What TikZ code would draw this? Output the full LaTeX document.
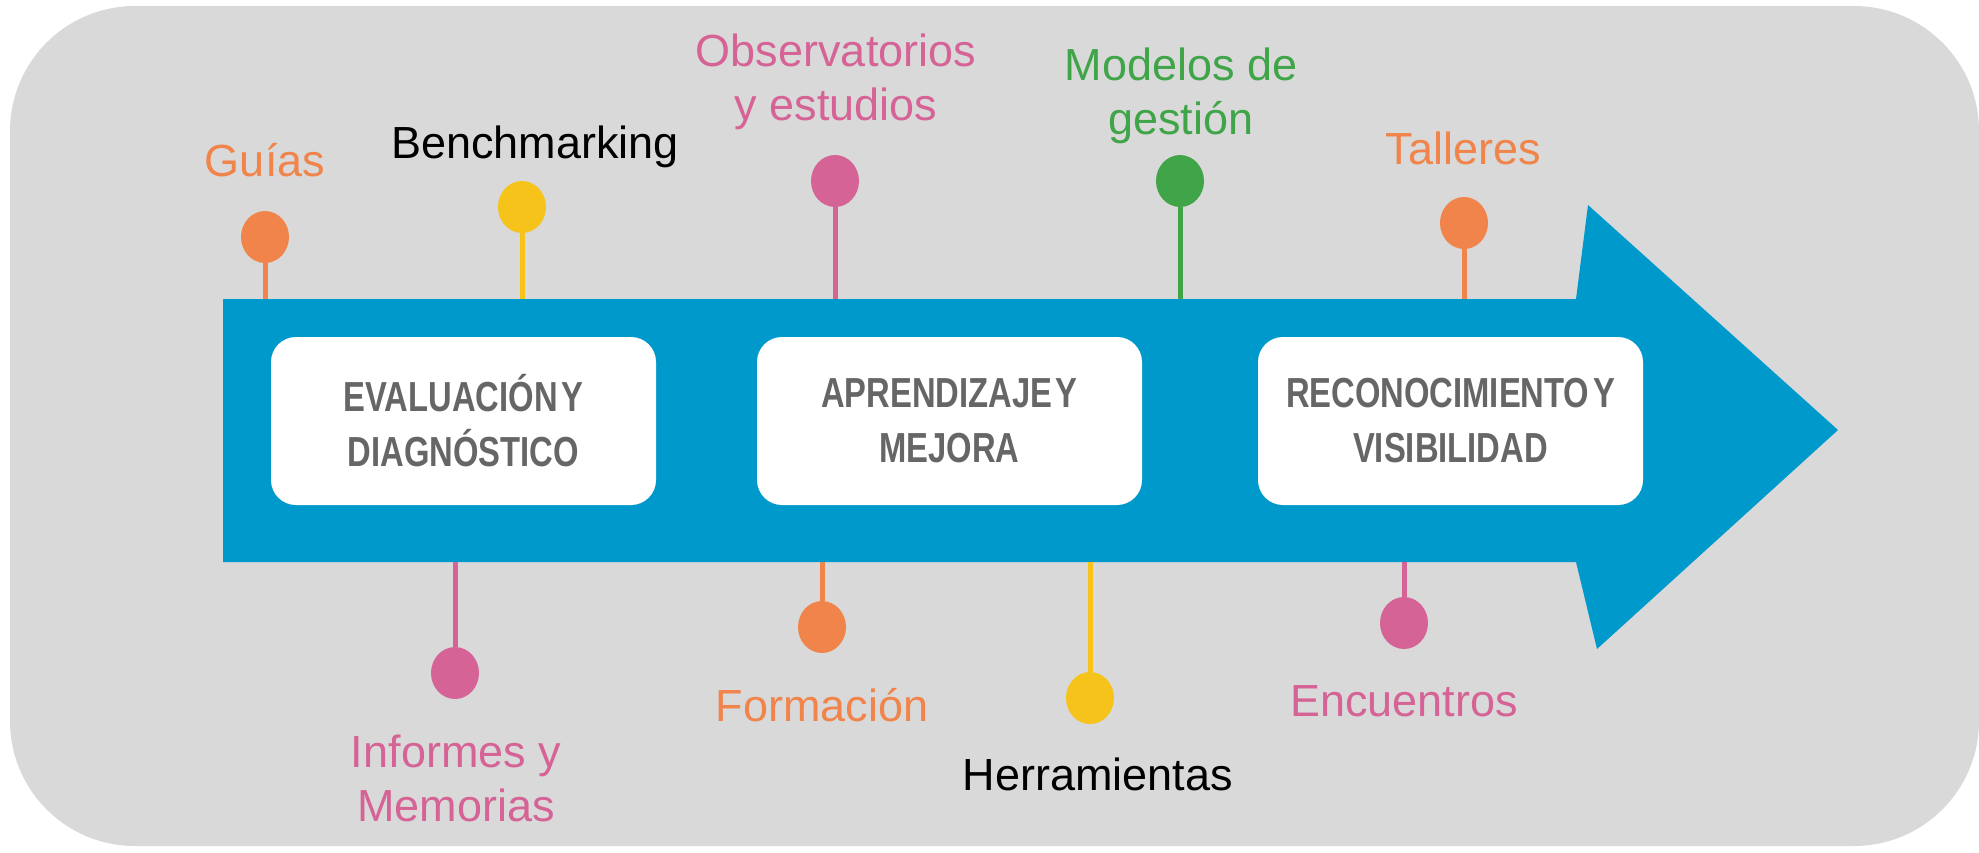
\documentclass[tikz,border=0pt]{standalone}
\usepackage{fontspec}
\setmainfont{Liberation Sans}
\newfontfamily\stagefont[FakeStretch=0.78, WordSpace=0.4]{Liberation Sans}
\usetikzlibrary{shapes.geometric}
\definecolor{bggray}{HTML}{D9D9D9}
\definecolor{arrowblue}{HTML}{0099CC}
\definecolor{stagegray}{HTML}{666666}
\definecolor{dotorange}{HTML}{F0844A}
\definecolor{dotyellow}{HTML}{F6C31A}
\definecolor{dotpink}{HTML}{D66396}
\definecolor{dotgreen}{HTML}{40A548}
\tikzset{
  dot/.style={ellipse, fill=#1, minimum width=48pt, minimum height=52pt, inner sep=0pt},
  stem/.style={draw=#1, line width=5pt},
  lbl/.style={text=#1, font=\fontsize{45}{54}\selectfont, align=center, inner sep=0pt},
  stage/.style={fill=white, rounded corners=25pt, minimum width=385pt, minimum height=168pt,
    inner sep=0pt, text=stagegray, align=center,
    font=\stagefont\bfseries\fontsize{42}{55}\selectfont}
}
\begin{document}
\begin{tikzpicture}[x=1pt, y=-1pt]
  \useasboundingbox (0,0) rectangle (1979,852) ;
  \fill[bggray, rounded corners=125pt] (10,6) rectangle (1979,846) ;
  % big arrow
  \fill[arrowblue] (223,299) -- (1576,299) -- (1588,205) -- (1838,430)
    -- (1597,649) -- (1576,562) -- (223,562) -- cycle ;
  \coordinate (shafttop) at (223,299) ;
  \coordinate (shaftbot) at (223,562) ;
  % stages
  \node[stage] (eval) at (463.5,421) {EVALUACIÓN Y\\DIAGNÓSTICO} ;
  \node[stage] (apre) at (949.5,421) {APRENDIZAJE Y\\MEJORA} ;
  \node[stage] (reco) at (1450.5,421) {RECONOCIMIENTO Y\\VISIBILIDAD} ;
  % pins above
  \node[dot=dotorange] (guias) at (265,237) {} ;
  \node[dot=dotyellow] (bench) at (522,207) {} ;
  \node[dot=dotpink] (obser) at (835,181) {} ;
  \node[dot=dotgreen] (model) at (1180,181) {} ;
  \node[dot=dotorange] (talle) at (1464,223) {} ;
  \draw[stem=dotorange] (guias) -- (guias |- shafttop) ;
  \draw[stem=dotyellow] (bench) -- (bench |- shafttop) ;
  \draw[stem=dotpink] (obser) -- (obser |- shafttop) ;
  \draw[stem=dotgreen] (model) -- (model |- shafttop) ;
  \draw[stem=dotorange] (talle) -- (talle |- shafttop) ;
  % pins below
  \node[dot=dotpink] (infor) at (455,673) {} ;
  \node[dot=dotorange] (forma) at (822,627) {} ;
  \node[dot=dotyellow] (herra) at (1090,698) {} ;
  \node[dot=dotpink] (encue) at (1404,623) {} ;
  \draw[stem=dotpink] (infor) -- (infor |- shaftbot) ;
  \draw[stem=dotorange] (forma) -- (forma |- shaftbot) ;
  \draw[stem=dotyellow] (herra) -- (herra |- shaftbot) ;
  \draw[stem=dotpink] (encue) -- (encue |- shaftbot) ;
  % labels
  \node[lbl=dotorange] (guiastxt) at (265,160) {Guías} ;
  \node[lbl=black] (benchtxt) at (535,147) {Benchmarking} ;
  \node[lbl=dotpink] (obsertxt) at (836,82) {Observatorios\\y estudios} ;
  \node[lbl=dotgreen] (modeltxt) at (1181,96) {Modelos de\\gestión} ;
  \node[lbl=dotorange] (talletxt) at (1463,148) {Talleres} ;
  \node[lbl=dotpink] (infortxt) at (456,778) {Informes y\\Memorias} ;
  \node[lbl=dotorange] (formatxt) at (822,705) {Formación} ;
  \node[lbl=black] (herratxt) at (1098,774) {Herramientas} ;
  \node[lbl=dotpink] (encuetxt) at (1404,701) {Encuentros} ;
\end{tikzpicture}
\end{document}
